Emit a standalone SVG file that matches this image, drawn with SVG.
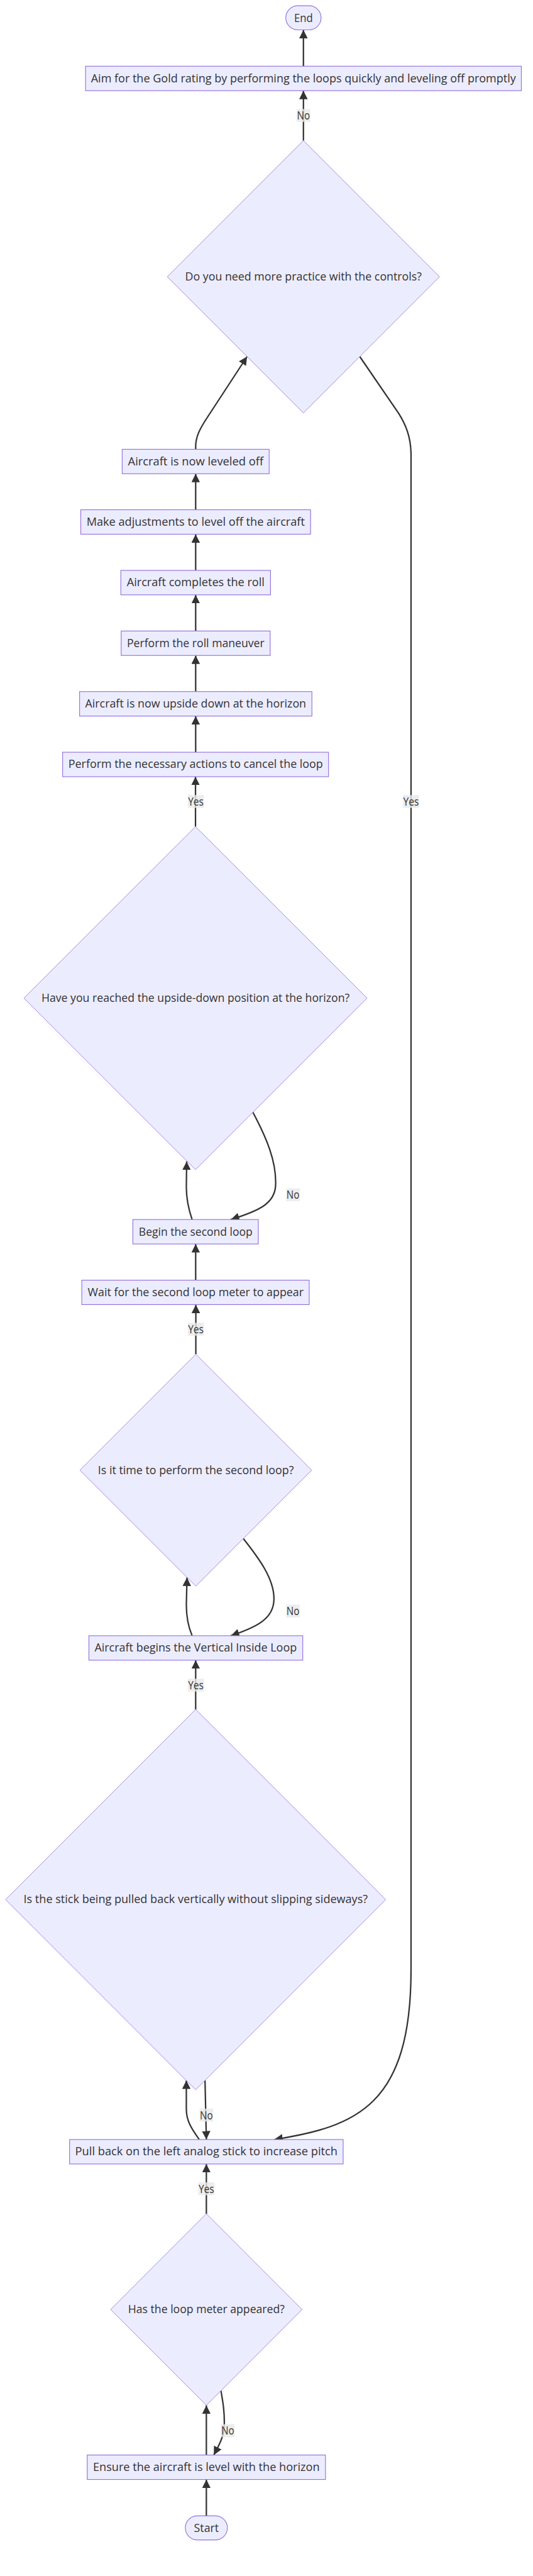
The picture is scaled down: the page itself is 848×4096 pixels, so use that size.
<svg xmlns="http://www.w3.org/2000/svg" width="848" height="4096" viewBox="0 0 848 4096">
<style>
.n{fill:#ECECFF;stroke:#9370DB;stroke-width:2.1}
polygon.n{stroke-width:1.5}
.t{font-family:"Open Sans","Liberation Sans",sans-serif;font-size:35px;fill:#333333;text-anchor:middle}
.e{fill:none;stroke:#333333;stroke-width:4.2;marker-end:url(#arr)}
.lb{fill:#e8e8e8;fill-opacity:0.8}
</style>
<defs>
<marker id="arr" viewBox="0 0 10 10" refX="10" refY="5" markerUnits="userSpaceOnUse" markerWidth="25" markerHeight="25" orient="auto">
<path d="M0,0 L10,5 L0,10 z" fill="#333333"/>
</marker>
</defs>
<rect width="848" height="4096" fill="#ffffff"/>
<g transform="scale(0.54)">
<g id="edges">
<path class="e" d="M894,195 L894,88"/>
<path class="e" d="M894,414 L894,267"/>
<path class="e" d="M576.5,1323 L576.5,1315 C576.5,1285 590,1262 605,1238 L728,1050"/>
<path class="e" d="M1060,1050 L1175,1218 C1195,1250 1210,1285 1211,1335 L1211,5800 C1211,6200 1050,6262 808,6300"/>
<path class="e" d="M576.5,2215 L576.5,2108.5"/>
<path class="e" d="M576.5,2036.5 L576.5,1930"/>
<path class="e" d="M576.5,1858 L576.5,1751.5"/>
<path class="e" d="M576.5,1679.5 L576.5,1573"/>
<path class="e" d="M576.5,1501 L576.5,1395"/>
<path class="e" d="M576,2434 L576,2287"/>
<path class="e" d="M745,3275 C785,3350 815,3420 812,3490 C810,3545 760,3566 680,3591"/>
<path class="e" d="M566,3591 C556,3562 549,3535 549,3495 L550,3420"/>
<path class="e" d="M576.5,3769.5 L576.5,3663"/>
<path class="e" d="M577,3987.5 L577,3841.5"/>
<path class="e" d="M717,4530.5 C760,4585 810,4650 807,4712 C805,4765 760,4790 680,4816.5"/>
<path class="e" d="M566,4816.5 C553,4786 549,4760 549,4725 L551,4645"/>
<path class="e" d="M576.5,5033.5 L576.5,4888.5"/>
<path class="e" d="M604,6126 L608,6300"/>
<path class="e" d="M587,6300 C570,6275 549,6250 549,6210 L549,6126"/>
<path class="e" d="M608,6518.5 L608,6372"/>
<path class="e" d="M651,7039.5 C658,7080 661,7100 661,7135 C661,7175 645,7200 630,7229"/>
<path class="e" d="M608,7229 L608,7082.5"/>
<path class="e" d="M608,7408 L608,7301"/>
</g>
<g id="edge-labels">
<rect class="lb" x="874" y="321" width="40" height="38"/><text class="t" x="894" y="352" textLength="38" lengthAdjust="spacingAndGlyphs">No</text>
<rect class="lb" x="553.5" y="2341" width="47" height="38"/><text class="t" x="577" y="2372" textLength="46" lengthAdjust="spacingAndGlyphs">Yes</text>
<rect class="lb" x="1187.5" y="2341" width="47" height="38"/><text class="t" x="1211" y="2372" textLength="46" lengthAdjust="spacingAndGlyphs">Yes</text>
<rect class="lb" x="843" y="3499" width="40" height="38"/><text class="t" x="863" y="3530" textLength="38" lengthAdjust="spacingAndGlyphs">No</text>
<rect class="lb" x="553.5" y="3895" width="47" height="38"/><text class="t" x="577" y="3926" textLength="46" lengthAdjust="spacingAndGlyphs">Yes</text>
<rect class="lb" x="843" y="4725" width="40" height="38"/><text class="t" x="863" y="4756" textLength="38" lengthAdjust="spacingAndGlyphs">No</text>
<rect class="lb" x="553.5" y="4943" width="47" height="38"/><text class="t" x="577" y="4974" textLength="46" lengthAdjust="spacingAndGlyphs">Yes</text>
<rect class="lb" x="588" y="6209" width="40" height="38"/><text class="t" x="608" y="6240" textLength="38" lengthAdjust="spacingAndGlyphs">No</text>
<rect class="lb" x="584.5" y="6426" width="47" height="38"/><text class="t" x="608" y="6457" textLength="46" lengthAdjust="spacingAndGlyphs">Yes</text>
<rect class="lb" x="651" y="7138" width="40" height="38"/><text class="t" x="671" y="7169" textLength="38" lengthAdjust="spacingAndGlyphs">No</text>
</g>
<g id="node-end"><rect class="n" x="842" y="17" width="104" height="71" rx="35.5"/><text class="t" x="894" y="64" textLength="55" lengthAdjust="spacingAndGlyphs">End</text></g>
<g id="node-aim"><rect class="n" x="252" y="195" width="1284" height="72"/><text class="t" x="894" y="242" textLength="1252" lengthAdjust="spacingAndGlyphs">Aim for the Gold rating by performing the loops quickly and leveling off promptly</text></g>
<g id="node-practice"><polygon class="n" points="894,414 1295,815 894,1216 493,815"/><text class="t" x="894" y="826" textLength="697" lengthAdjust="spacingAndGlyphs">Do you need more practice with the controls?</text></g>
<g id="node-leveled"><rect class="n" x="360" y="1323" width="433" height="72"/><text class="t" x="576.5" y="1370" textLength="399" lengthAdjust="spacingAndGlyphs">Aircraft is now leveled off</text></g>
<g id="node-adjust"><rect class="n" x="238" y="1501" width="677" height="72"/><text class="t" x="576.5" y="1548" textLength="643" lengthAdjust="spacingAndGlyphs">Make adjustments to level off the aircraft</text></g>
<g id="node-completes"><rect class="n" x="356" y="1679.5" width="441" height="72"/><text class="t" x="576.5" y="1726.5" textLength="406" lengthAdjust="spacingAndGlyphs">Aircraft completes the roll</text></g>
<g id="node-roll"><rect class="n" x="357" y="1858" width="439" height="72"/><text class="t" x="576.5" y="1905" textLength="405" lengthAdjust="spacingAndGlyphs">Perform the roll maneuver</text></g>
<g id="node-upside"><rect class="n" x="234.5" y="2036.5" width="684.5" height="72"/><text class="t" x="576.5" y="2083.5" textLength="651" lengthAdjust="spacingAndGlyphs">Aircraft is now upside down at the horizon</text></g>
<g id="node-cancel"><rect class="n" x="184.5" y="2215" width="783.5" height="72"/><text class="t" x="576.5" y="2262" textLength="750" lengthAdjust="spacingAndGlyphs">Perform the necessary actions to cancel the loop</text></g>
<g id="node-reached"><polygon class="n" points="576,2434 1081.5,2939 576,3444 70.5,2939"/><text class="t" x="576" y="2950" textLength="908" lengthAdjust="spacingAndGlyphs">Have you reached the upside-down position at the horizon?</text></g>
<g id="node-begin2"><rect class="n" x="391.5" y="3591" width="369.5" height="72"/><text class="t" x="576.5" y="3638" textLength="335" lengthAdjust="spacingAndGlyphs">Begin the second loop</text></g>
<g id="node-wait"><rect class="n" x="241" y="3769.5" width="670" height="72"/><text class="t" x="576.5" y="3816.5" textLength="636" lengthAdjust="spacingAndGlyphs">Wait for the second loop meter to appear</text></g>
<g id="node-time"><polygon class="n" points="577,3987.5 918.5,4329 577,4670.5 235.5,4329"/><text class="t" x="577" y="4340" textLength="577" lengthAdjust="spacingAndGlyphs">Is it time to perform the second loop?</text></g>
<g id="node-vloop"><rect class="n" x="262" y="4816.5" width="630" height="72"/><text class="t" x="576.5" y="4863.5" textLength="596" lengthAdjust="spacingAndGlyphs">Aircraft begins the Vertical Inside Loop</text></g>
<g id="node-stick"><polygon class="n" points="576.5,5033.5 1136.5,5593.5 576.5,6153.5 16.5,5593.5"/><text class="t" x="576.5" y="5604.5" textLength="1014" lengthAdjust="spacingAndGlyphs">Is the stick being pulled back vertically without slipping sideways?</text></g>
<g id="node-pull"><rect class="n" x="205" y="6300" width="806" height="72"/><text class="t" x="608" y="6347" textLength="773" lengthAdjust="spacingAndGlyphs">Pull back on the left analog stick to increase pitch</text></g>
<g id="node-meter"><polygon class="n" points="608,6518.5 890,6800.5 608,7082.5 326,6800.5"/><text class="t" x="608" y="6811.5" textLength="461" lengthAdjust="spacingAndGlyphs">Has the loop meter appeared?</text></g>
<g id="node-ensure"><rect class="n" x="257" y="7229" width="702" height="72"/><text class="t" x="608" y="7276" textLength="668" lengthAdjust="spacingAndGlyphs">Ensure the aircraft is level with the horizon</text></g>
<g id="node-start"><rect class="n" x="546" y="7408" width="124" height="71" rx="35.5"/><text class="t" x="608" y="7455" textLength="73" lengthAdjust="spacingAndGlyphs">Start</text></g>
</g>
</svg>
